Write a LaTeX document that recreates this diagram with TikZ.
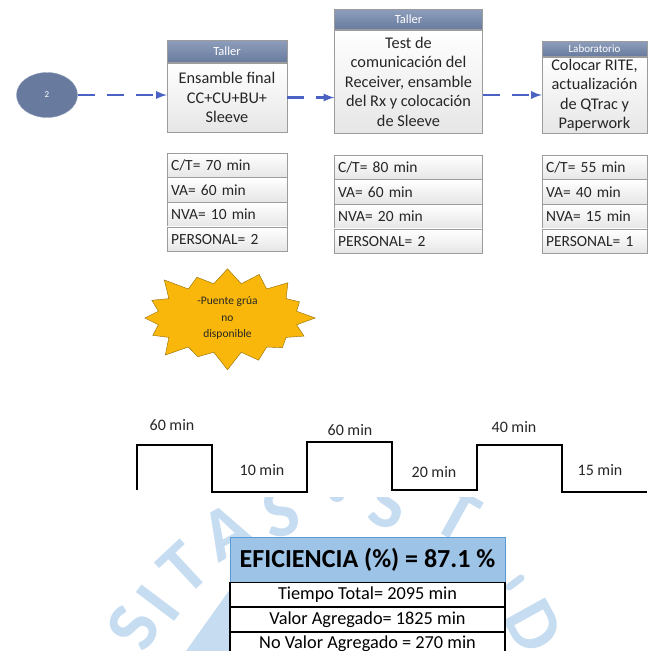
\documentclass[tikz,border=0pt]{standalone}
\usepackage{fontspec}
\setmainfont{Carlito}
\usetikzlibrary{positioning,shapes.geometric,shapes.symbols}

\definecolor{hdrblue}{HTML}{687B9E}
\definecolor{hdrtop}{HTML}{8D9DBB}
\definecolor{flowblue}{HTML}{4A62C4}
\definecolor{boxgray}{HTML}{E6E6E6}
\definecolor{linegray}{HTML}{9C9C9C}
\definecolor{burst}{HTML}{F8B70A}
\definecolor{burstline}{HTML}{8F6C05}
\definecolor{effblue}{HTML}{9DC3E6}
\definecolor{effline}{HTML}{5B9BD5}
\definecolor{wmark}{HTML}{C6DCF1}
\definecolor{inkgray}{HTML}{262626}

\begin{document}
\begin{tikzpicture}[x=1pt,y=-1pt]
  \useasboundingbox (0,0) rectangle (650,651);
  \tikzset{HeadStyle/.style={draw=linegray, top color=hdrtop, bottom color=hdrblue,
      text=white, inner sep=0pt, font=\fontsize{12.5}{13}\selectfont}}
  \tikzset{BodyStyle/.style={draw=linegray, top color=white, bottom color=boxgray,
      text=inkgray, align=center, inner sep=2pt, font=\fontsize{16.3}{19.5}\selectfont}}
  \tikzset{CellStyle/.style={draw=linegray, top color=white, bottom color=boxgray,
      text=inkgray, align=left, inner xsep=4pt, inner ysep=0pt, minimum height=24.6pt,
      font=\fontsize{15.5}{16}\selectfont}}
  \tikzset{FlowStyle/.style={draw=flowblue, line width=2.6pt,
      dash pattern=on 17pt off 12pt, -latex}}
  \tikzset{BurstStyle/.style={starburst, starburst points=16, starburst point height=20pt,
      fill=burst, draw=burstline, minimum width=181pt, minimum height=90pt, align=center,
      text=inkgray, font=\fontsize{11.5}{16.5}\selectfont}}
  \tikzset{WaveStyle/.style={line width=1.4pt, line join=miter}}
  \tikzset{WaveLabel/.style={text=inkgray, font=\fontsize{16}{17}\selectfont}}
  \tikzset{EffHead/.style={draw=effline, fill=effblue, minimum width=275pt, minimum height=45pt,
      font=\bfseries\fontsize{26}{30}\selectfont}}
  \tikzset{EffRow/.style={draw=black, line width=1.1pt, fill=white, minimum width=275pt,
      minimum height=23.7pt, font=\fontsize{18.3}{19}\selectfont}}
  \tikzset{MarkStyle/.style={text=wmark, inner sep=0pt, font=\bfseries\fontsize{74}{74}\selectfont}}

  % seal letters in the background
  \foreach \ch/\px/\py/\rot [count=\k] in {S/134/628/62, I/158/603/53, T/184/568/43,
      A/226/532/29, S/281/512/13, S/388/503/-14, T/457/515/-29, D/534/626/-61}
    \node[MarkStyle, rotate=\rot] (wm\k) at (\px,\py) {\ch};
  \fill[wmark] (337,494) circle (8pt);
  \draw[wmark, line width=7pt, line cap=round] (509,587) -- (521,578);
  \fill[wmark] (186,651) -- (238,578) -- (262,651) -- cycle;

  % process boxes
  \node[ellipse, fill=hdrblue, draw=hdrtop, minimum width=61pt, minimum height=45pt,
    text=white, font=\fontsize{9}{10}\selectfont] (c2) at (47,95) {2};

  \node[BodyStyle, minimum width=120pt, minimum height=69pt] (b1) at (227,97.5)
    {Ensamble final\\CC+CU+BU+\\Sleeve};
  \node[HeadStyle, minimum width=120pt, minimum height=22pt, above=0pt of b1] (h1) {Taller};

  \node[BodyStyle, minimum width=148pt, minimum height=103pt] (b2) at (408.5,81.5)
    {Test de\\comunicación del\\Receiver, ensamble\\del Rx y colocación\\de Sleeve};
  \node[HeadStyle, minimum width=148pt, minimum height=20pt, above=0pt of b2] (h2) {Taller};

  \node[BodyStyle, minimum width=105pt, minimum height=76pt] (b3) at (594.5,95)
    {Colocar RITE,\\actualización\\de QTrac y\\Paperwork};
  \node[HeadStyle, minimum width=105pt, minimum height=15pt, above=0pt of b3,
    font=\fontsize{11}{12}\selectfont] (h3) {Laboratorio};

  \draw[FlowStyle] (c2.east) -- (b1.west |- c2.east);
  \draw[FlowStyle] (b1.east) -- (b2.west |- b1.east);
  \draw[FlowStyle] (b2.east |- b3.west) -- (b3.west);

  % data per station
  \foreach \txt [count=\i] in {C/T= 70 min, VA= 60 min, NVA= 10 min, PERSONAL= 2}
    \node[CellStyle, minimum width=120pt, text width=112pt] (d1\i) at (227,{153+24.6*(\i-0.5)}) {\txt};
  \foreach \txt [count=\i] in {C/T= 80 min, VA= 60 min, NVA= 20 min, PERSONAL= 2}
    \node[CellStyle, minimum width=148pt, text width=140pt] (d2\i) at (408,{155+24.6*(\i-0.5)}) {\txt};
  \foreach \txt [count=\i] in {C/T= 55 min, VA= 40 min, NVA= 15 min, PERSONAL= 1}
    \node[CellStyle, minimum width=105pt, text width=97pt] (d3\i) at (594.5,{155+24.6*(\i-0.5)}) {\txt};

  \node[BurstStyle] (burst) at (227.5,318) {-Puente grúa\\no\\disponible};

  % value added / non value added line
  \fill[white] (115,398) rectangle (650,497);
  \draw[WaveStyle] (137,490) |- (212,445) |- (307,492) |- (392,442) |- (477,490)
    |- (562,445) |- (647,492);
  \node[WaveLabel] (w1) at (172,425) {60 min};
  \node[WaveLabel] (w2) at (262,470) {10 min};
  \node[WaveLabel] (w3) at (350,430) {60 min};
  \node[WaveLabel] (w4) at (434,472) {20 min};
  \node[WaveLabel] (w5) at (514,427) {40 min};
  \node[WaveLabel] (w6) at (600,470) {15 min};

  % summary
  \node[EffHead] (eff) at (367.5,559.5) {EFICIENCIA (\%) = 87.1 \%};
  \node[EffRow, below=0pt of eff] (tt) {Tiempo Total= 2095 min};
  \node[EffRow, below=0pt of tt] (va) {Valor Agregado= 1825 min};
  \node[EffRow, below=0pt of va] (nva) {No Valor Agregado = 270 min};
\end{tikzpicture}
\end{document}
